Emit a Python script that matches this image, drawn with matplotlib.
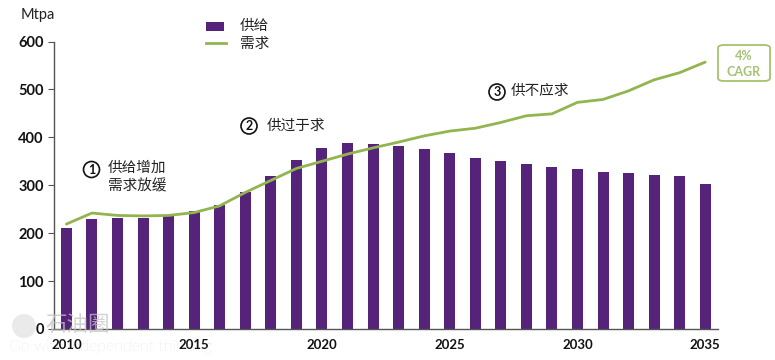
import matplotlib
matplotlib.use("Agg")
import matplotlib.pyplot as plt
from matplotlib.patches import FancyBboxPatch, Ellipse, Rectangle
from matplotlib.lines import Line2D

plt.rcParams['font.family'] = ['Lato', 'Noto Sans CJK SC', 'DejaVu Sans']

years = list(range(2010, 2036))
supply = [210, 230, 232, 231, 236, 247, 258, 285, 320, 352, 378, 388, 387,
          381, 375, 367, 356, 350, 344, 339, 334, 328, 326, 321, 319, 302]
demand = [219, 242, 237, 236, 237, 243, 257, 285, 310, 335, 350, 365, 378,
          390, 403, 413, 419, 431, 445, 449, 473, 479, 497, 520, 535, 557]
y_ticks = [0, 100, 200, 300, 400, 500, 600]
x_labels = [2010, 2015, 2020, 2025, 2030, 2035]
legend_labels = ['供给', '需求']
notes = ['供给增加\n需求放缓', '供过于求', '供不应求']
PURPLE = '#55237a'
GREEN = '#92b550'
BW, BH = 775, 360

fig = plt.figure(figsize=(BW / 100, BH / 100), dpi=100)
ax = fig.add_axes([53.6 / BW, 1 - 329 / BH, (718 - 53.6) / BW, (329 - 41.5) / BH])
ax.bar(years, supply, width=0.43, color=PURPLE, zorder=2)
ax.plot(years, demand, color=GREEN, lw=2.0, zorder=3, solid_capstyle='round')
ax.set_xlim(2009.5, 2035.5)
ax.set_ylim(0, 600)
ax.set_yticks(y_ticks)
ax.set_xticks(x_labels)
ax.set_xticklabels([str(v) for v in x_labels], fontweight='bold', fontsize=9.5, color='#111111')
ax.set_yticklabels([str(v) for v in y_ticks], fontweight='bold', fontsize=10.5, color='#111111')
ax.tick_params(axis='x', length=0, pad=7)
ax.tick_params(axis='y', length=4, width=0.8, color='#555555', pad=3)
for s in ('top', 'right'):
    ax.spines[s].set_visible(False)
for s in ('left', 'bottom'):
    ax.spines[s].set_color('#555555')
    ax.spines[s].set_linewidth(1.0)


def px(x, y):
    return x / BW, 1 - y / BH


def label(x, y, s, **kw):
    kw.setdefault('fontsize', 10.5)
    kw.setdefault('color', '#222222')
    kw.setdefault('va', 'center')
    fig.text(*px(x, y), s, **kw)


def badge(cx, cy, s):
    fig.add_artist(Ellipse(px(cx, cy), 16 / BW, 16 / BH, transform=fig.transFigure,
                           fc='white', ec='#111111', lw=1.2))
    fig.text(*px(cx, cy), s, ha='center', va='center', fontsize=9, color='#111111',
             fontweight='bold')


label(21, 15, 'Mtpa')

# legend
fig.add_artist(Rectangle(px(206, 31), 18 / BW, 9 / BH, transform=fig.transFigure,
                         fc=PURPLE, ec='none'))
fig.add_artist(Line2D([206 / BW, 226 / BW], [1 - 42.5 / BH] * 2, color=GREEN, lw=2,
                      transform=fig.transFigure))
label(240, 25.5, legend_labels[0])
label(240, 44, legend_labels[1])

# annotations
badge(91.5, 169.5, '1')
label(108, 168, notes[0].split('\n')[0])
label(108, 186, notes[0].split('\n')[1])
badge(249, 126, '2')
label(267, 126, notes[1])
badge(497, 92, '3')
label(511, 91, notes[2])

# CAGR box
fig.add_artist(FancyBboxPatch((718 / BW, 1 - 81 / BH), 52 / BW, 36 / BH,
                              boxstyle='round,pad=0,rounding_size=0.008',
                              transform=fig.transFigure, fc='white', ec='#a5c272', lw=1.3))
label(744, 56, '4%', ha='center', fontsize=9, fontweight='bold', color='#a5c272')
label(744, 72, 'CAGR', ha='center', fontsize=9, fontweight='bold', color='#a5c272')

# watermark
fig.add_artist(Ellipse(px(24, 326), 24 / BW, 24 / BH, transform=fig.transFigure,
                       fc='#dddddd', ec='none', alpha=0.6, zorder=5))
label(45, 325, '石油圈', fontsize=15.5, color='#c4c4c4', alpha=0.75, zorder=5)
label(9, 347, 'Go with independent thinking', fontsize=11.5, color='#c4c4c4', alpha=0.75,
      zorder=5, fontweight='light')

fig.savefig('out.png', dpi=100, facecolor='white')
